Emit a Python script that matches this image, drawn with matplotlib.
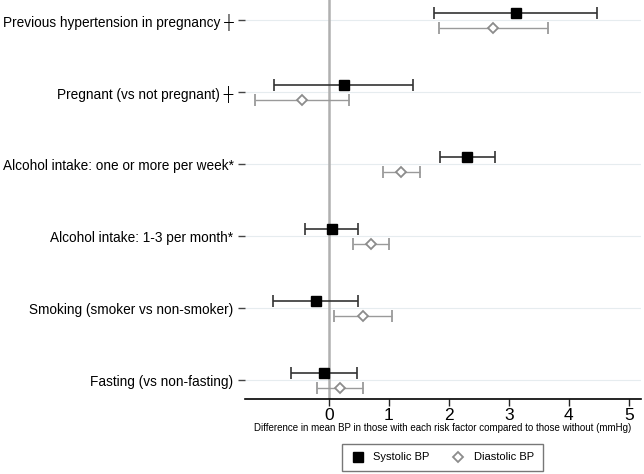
import numpy as np
import matplotlib
matplotlib.use("Agg")
import matplotlib.pyplot as plt

factors = [
    "Previous hypertension in pregnancy ┼",
    "Pregnant (vs not pregnant) ┼",
    "Alcohol intake: one or more per week*",
    "Alcohol intake: 1-3 per month*",
    "Smoking (smoker vs non-smoker)",
    "Fasting (vs non-fasting)",
]

sys_est = [3.12, 0.25, 2.30, 0.05, -0.22, -0.08]
sys_lo = [1.75, -0.92, 1.85, -0.40, -0.93, -0.63]
sys_hi = [4.47, 1.40, 2.77, 0.48, 0.48, 0.47]

dia_est = [2.73, -0.45, 1.20, 0.70, 0.57, 0.18]
dia_lo = [1.83, -1.23, 0.90, 0.40, 0.08, -0.20]
dia_hi = [3.65, 0.33, 1.52, 1.00, 1.05, 0.57]

xticks = [0, 1, 2, 3, 4, 5]

plt.rcParams["font.family"] = ["Liberation Sans", "DejaVu Sans"]

fig = plt.figure(figsize=(6.44, 4.74), dpi=100)
ax = fig.add_axes([0.380, 0.158, 0.615, 0.842])

rows = np.arange(len(factors))
sys_est = np.array(sys_est)
dia_est = np.array(dia_est)

# horizontal row guides and zero line
for r in rows:
    ax.axhline(r, color="#e6ecef", lw=0.8, zorder=0)
ax.axvline(0, color="#b0b0b0", lw=1.8, zorder=1)

ax.errorbar(sys_est, rows - 0.10,
            xerr=[sys_est - np.array(sys_lo), np.array(sys_hi) - sys_est],
            fmt="s", color="black", ecolor="#333333", elinewidth=1.2,
            capsize=4, capthick=1.2, markersize=7, zorder=3,
            label="Systolic BP")
ax.errorbar(dia_est, rows + 0.11,
            xerr=[dia_est - np.array(dia_lo), np.array(dia_hi) - dia_est],
            fmt="D", markerfacecolor="white", markeredgecolor="#8c8c8c",
            markeredgewidth=1.3, ecolor="#9a9a9a", elinewidth=1.0,
            capsize=4, capthick=1.0, markersize=5.5, zorder=3,
            label="Diastolic BP")

ax.set_xlim(-1.4, 5.2)
ax.set_ylim(5.264, -0.278)
ax.set_xticks(xticks)
ax.set_xticklabels([str(t) for t in xticks], fontsize=12.5)
ax.set_yticks(rows)
ax.set_yticklabels(factors, fontsize=9.8)
ax.tick_params(axis="y", length=5, width=1, pad=3, color="#444444")
ax.tick_params(axis="x", length=5, width=1, pad=1.5, color="#222222")

for s in ["top", "right", "left"]:
    ax.spines[s].set_visible(False)
ax.spines["bottom"].set_linewidth(1.2)

ax.set_xlabel("Difference in mean BP in those with each risk factor compared to those without (mmHg)",
              fontsize=7, labelpad=0)

handles, labels = ax.get_legend_handles_labels()
handles = [h[0] for h in handles]
leg = fig.legend(handles, labels, loc="center", bbox_to_anchor=(0.687, 0.035),
                 ncol=2, fontsize=8, frameon=True, fancybox=False,
                 edgecolor="#555555", handlelength=1.2, columnspacing=2.0,
                 borderpad=0.8)
leg.get_frame().set_linewidth(1.0)

fig.savefig("out.png", dpi=100)
